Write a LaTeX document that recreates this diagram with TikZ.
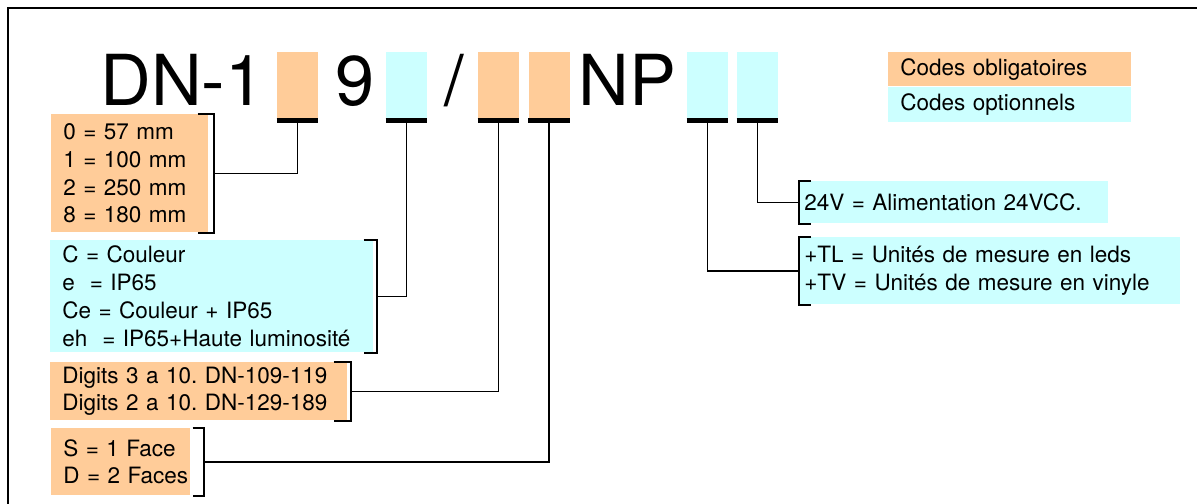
\documentclass[tikz,border=0pt]{standalone}
\usepackage{fontspec}
\setmainfont{TeX Gyre Heros}
\usepackage{xcolor}
\definecolor{CodeOrange}{HTML}{FFCC99}
\definecolor{CodeCyan}{HTML}{CCFFFF}
\usepackage{tikz}
\usetikzlibrary{positioning}
\frenchspacing
\exhyphenpenalty=10000

\begin{document}
\begin{tikzpicture}[x=0.025cm, y=-0.025cm,
            big/.style={inner sep=0pt, anchor=base, font=\fontsize{50}{60}\selectfont},
            slot/.style={minimum width=1.025cm, minimum height=1.65cm, inner sep=0pt},
            slotO/.style={slot, fill=CodeOrange},
            slotC/.style={slot, fill=CodeCyan},
            bar/.style={line width=0.125cm},
            info/.style={anchor=north west, align=left, inner xsep=0.3cm, inner ysep=0pt,
                         font=\fontsize{16}{19.85}\selectfont},
            infoO/.style={info, fill=CodeOrange},
            infoC/.style={info, fill=CodeCyan},
            brk/.style={line width=1.4pt},
            wire/.style={line width=1.1pt}]
        \useasboundingbox (0,0) rectangle (1197,504);
        \draw[line width=1.5pt] (8,504) -- (8,8) -- (1197,8);
        % code: DN-1 _ 9 _ / _ _ NP _ _
        \node[big, anchor=base west] (dn) at (100,106) {DN-1};
        \node[slotO] (s1) at (297.5,85) {};
        \node[big] (nine) at (355,106) {9};
        \node[slotC] (s2) at (406.5,85) {};
        \node[big] (slash) at (454,106) {/};
        \node[slotO] (s3) at (498.5,85) {};
        \node[slotO] (s4) at (549,85) {};
        \node[big] (np) at (627.5,106) {NP};
        \node[slotC] (s5) at (707.5,85) {};
        \node[slotC] (s6) at (757.5,85) {};
        \foreach \s in {s1,s2,s3,s4,s5,s6}
          \draw[bar] ([yshift=-0.0625cm]\s.south west) -- ([yshift=-0.0625cm]\s.south east);
        % legend
        \node[infoO, text width=5.475cm, minimum height=0.85cm] (lo) at (888,52) {Codes obligatoires};
        \node[infoC, text width=5.475cm, minimum height=0.875cm, below=0pt of lo] (lc) {Codes optionnels};
        % options
        \node[infoO, text width=3.325cm, minimum height=2.95cm] (sz) at (51,114)
          {0 = 57 mm\\1 = 100 mm\\2 = 250 mm\\8 = 180 mm};
        \node[infoC, text width=7.475cm, minimum height=2.8cm] (op) at (50,240)
          {C = Couleur\\e\ \ = IP65\\Ce = Couleur + IP65\\eh\ \ = IP65+Haute luminosité};
        \node[infoO, text width=6.825cm, minimum height=1.45cm] (dg) at (50,362)
          {Digits~3~a~10.~DN-109-119\\Digits~2~a~10.~DN-129-189};
        \node[infoO, text width=2.875cm, minimum height=1.675cm] (fc) at (51,428)
          {S~=~1~Face\\D~=~2~Faces};
        \node[infoC, inner xsep=0.125cm, text width=7.475cm, minimum height=1.05cm] (al) at (799,181)
          {24V = Alimentation 24VCC.};
        \node[infoC, inner xsep=0.125cm, text width=9.275cm, minimum height=1.675cm] (tl) at (799,237)
          {+TL = Unités de mesure en leds\\+TV = Unités de mesure en vinyle};
        \foreach \s/\n/\dx/\tk in {s1/sz/0.125/-0.275, s2/op/0.075/-0.25, s3/dg/0.075/-0.35, s4/fc/0.325/0.05} {
          \draw[brk] ([xshift=\tk cm]\n.north east) -- ([xshift=\dx cm]\n.north east)
            -- ([xshift=\dx cm]\n.south east) -- ([xshift=\tk cm]\n.south east);
          \draw[wire] (\s.south) |- ([xshift=\dx cm]\n.east);
        }
        \foreach \s/\n in {s6/al, s5/tl} {
          \draw[brk] ([xshift=0.3cm]\n.north west) -- (\n.north west)
            -- (\n.south west) -- ([xshift=0.3cm]\n.south west);
          \draw[wire] (\s.south) |- (\n.west);
        }
      \end{tikzpicture}
\end{document}
